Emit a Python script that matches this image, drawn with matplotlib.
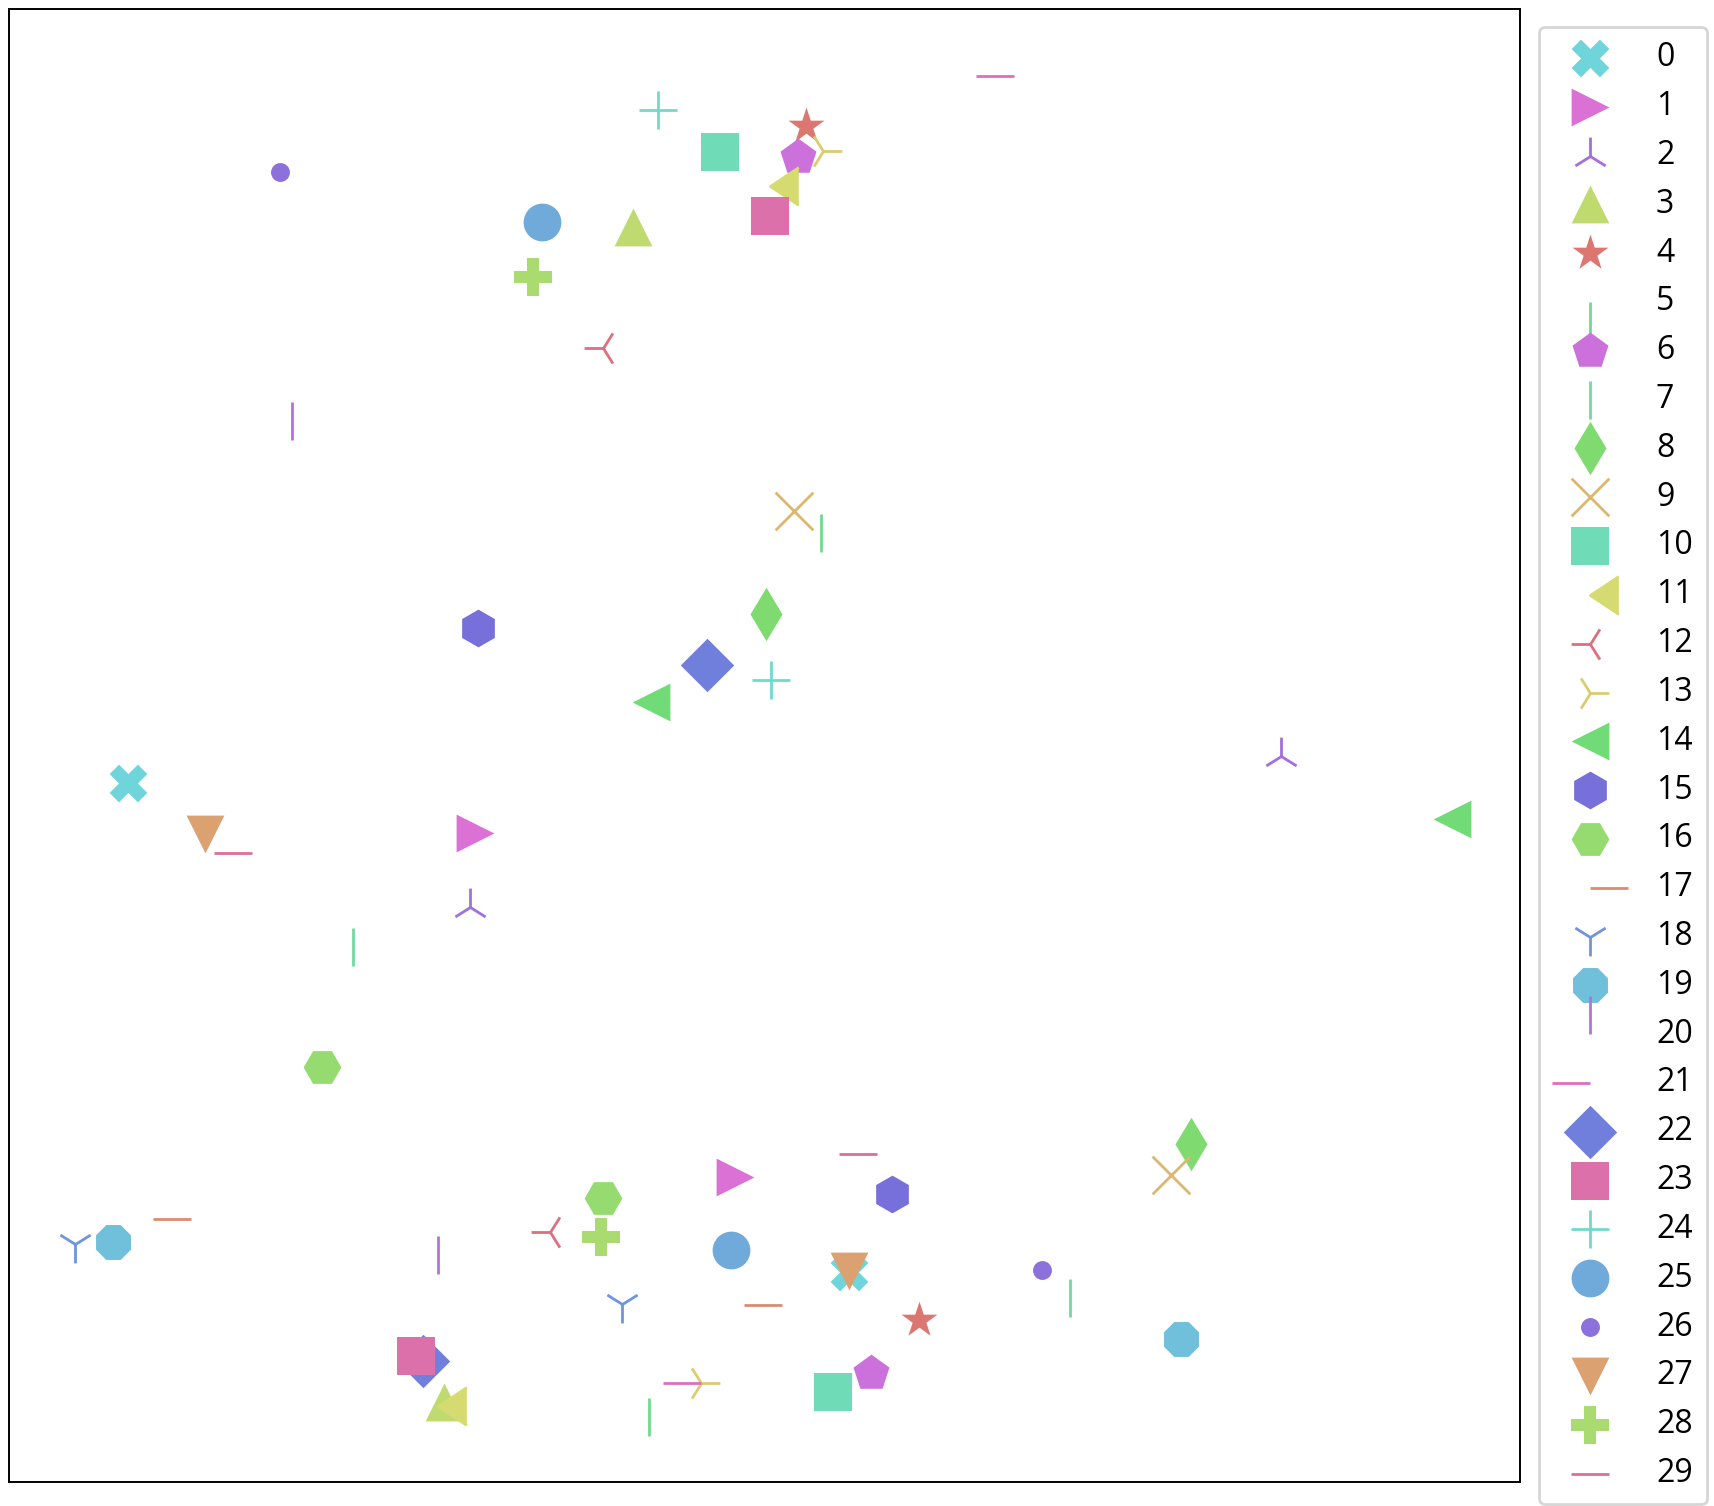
import colorsys
import matplotlib
matplotlib.use("Agg")
import matplotlib.pyplot as plt
from matplotlib.markers import MarkerStyle

plt.rcParams['font.family'] = ['Open Sans', 'DejaVu Sans']

# one style per group, two points each
labels = [str(i) for i in range(30)]
markers = ['X', '>', '2', '^', '*', 3, 'p', '|', 'd', 'x',
           's', 4, '3', '4', '<', 'h', 'H', 1, '1', '8',
           2, 0, 'D', 's', '+', 'o', '.', 'v', 'P', '_']
# position of each group's colour in a 30-colour hls palette
hue_rank = [15, 25, 22, 6, 0, 11, 24, 12, 9, 3,
            13, 5, 29, 4, 10, 20, 8, 1, 18, 16,
            23, 26, 19, 27, 14, 17, 21, 2, 7, 28]

x_a = [109, 427, 422, 571, 729, 743, 722, 971, 693, 718,
       651, 696, 544, 745, 588, 429, 287, 132, 61, 95,
       259, 920, 639, 696, 594, 488, 248, 180, 480, 205]
y_a = [640, 594, 526, 1148, 1241, 886, 1212, 168, 794, 888,
       1217, 1186, 1038, 1218, 714, 781, 380, 241, 218, 220,
       953, 1286, 748, 1158, 1255, 1153, 1199, 593, 1103, 576]
x_b = [769, 664, 1164, 398, 833, 586, 789, 315, 1082, 1063,
       754, 393, 495, 633, 1320, 808, 544, 673, 561, 1072,
       393, 633, 379, 373, 697, 661, 945, 769, 542, 777]
y_b = [192, 279, 664, 73, 148, 77, 100, 490, 309, 281,
       82, 70, 229, 91, 607, 264, 260, 162, 163, 131,
       190, 91, 111, 115, 734, 212, 194, 193, 224, 300]

colors = [colorsys.hls_to_rgb((0.01 + k / 30) % 1, 0.65, 0.6) for k in hue_rank]

fig = plt.figure(figsize=(8.57, 7.53), dpi=200)
ax = fig.add_axes([0.0051, 0.0159, 0.882, 0.9783])

for i, lab in enumerate(labels):
    m = markers[i]
    filled = MarkerStyle(m).is_filled()
    ax.scatter([x_a[i], x_b[i]], [y_a[i], y_b[i]],
               marker=m, color=colors[i], s=185,
               linewidths=0 if filled else 1.0,
               label=lab)

ax.set_xlim(0, 1383)
ax.set_ylim(0, 1348)
ax.set_xticks([])
ax.set_yticks([])
for sp in ax.spines.values():
    sp.set_linewidth(0.7)

ax.legend(loc='upper left', bbox_to_anchor=(1539 / 1714, 1 - 27 / 1506),
          bbox_transform=fig.transFigure, borderaxespad=0,
          fontsize=11.5, scatterpoints=1, handlelength=2.27,
          handletextpad=0.94, labelspacing=0.495, borderpad=0.45)

fig.savefig('out.png', dpi=200)
